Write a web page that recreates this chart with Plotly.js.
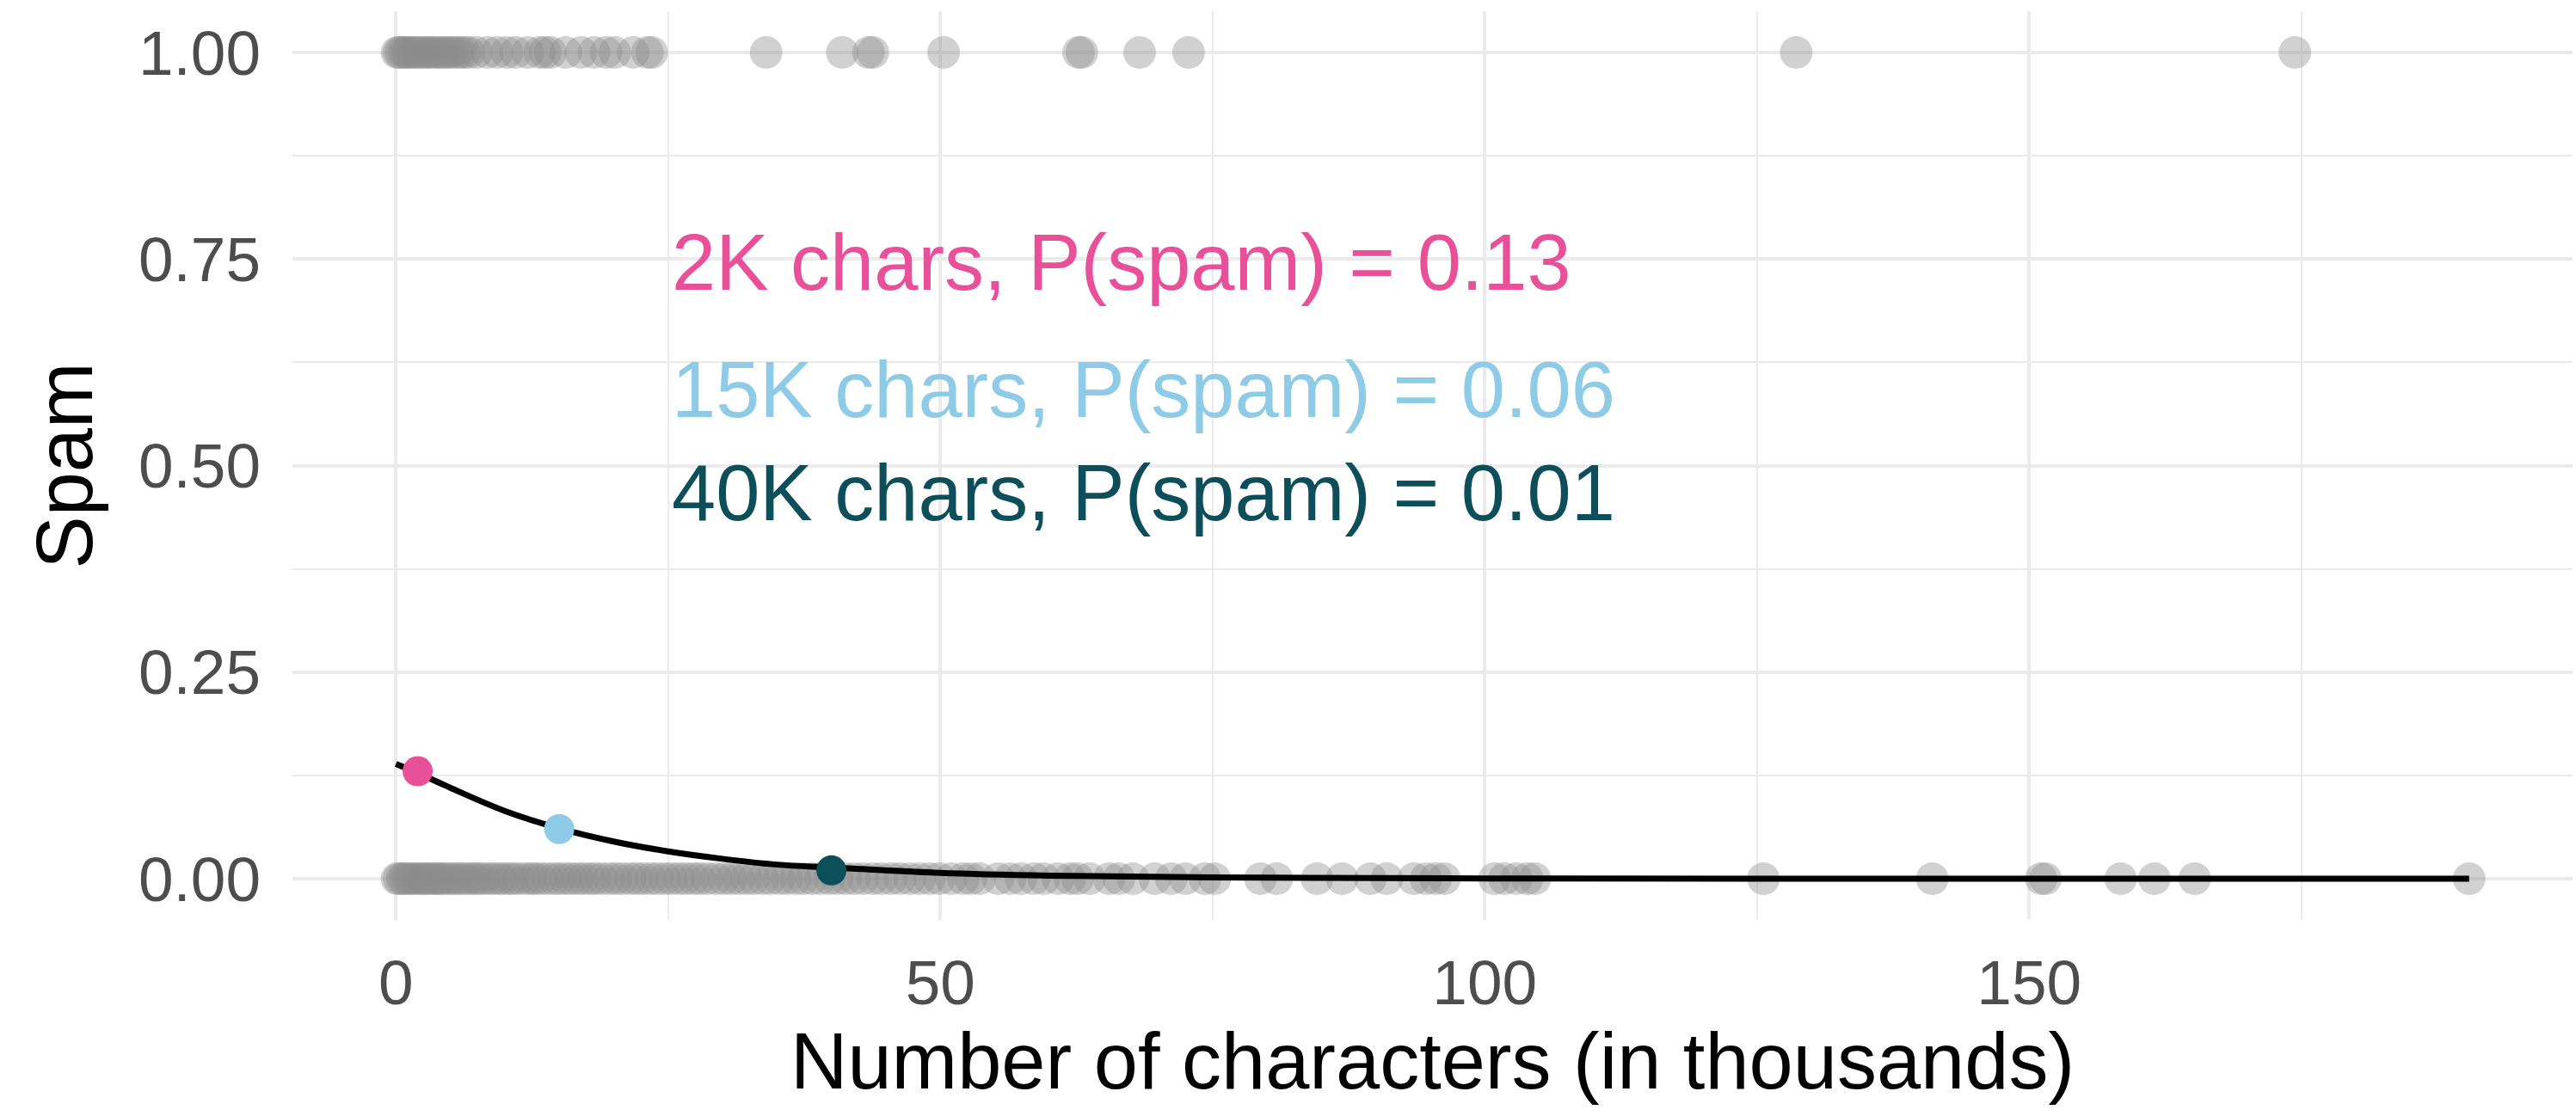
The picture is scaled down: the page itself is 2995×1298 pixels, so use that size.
<!DOCTYPE html>
<html>
<head>
<meta charset="utf-8">
<script src="https://cdn.plot.ly/plotly-3.0.1.min.js"></script>
<style>html,body{margin:0;padding:0;background:#fff;}#chart{width:2995px;height:1298px;}</style>
</head>
<body>
<div id="chart"></div>
<script>
// Non-spam emails (spam = 0): number of characters in thousands
const notSpamChars = [0.1,0.3,0.6,0.8,1.1,1.4,1.6,1.9,2.2,2.5,2.7,3.0,3.3,3.6,3.9,4.1,4.4,4.8,5.1,5.5,5.8,6.2,6.6,7.0,7.3,7.7,8.1,8.6,9.0,9.5,9.9,10.4,10.8,11.3,11.9,12.4,12.8,13.3,13.9,14.5,15.0,15.6,16.1,16.7,17.2,17.8,18.3,18.9,19.6,20.2,20.8,21.5,22.1,22.7,23.4,24.0,24.7,25.3,26.0,26.6,27.3,27.9,28.6,29.4,30.1,30.8,31.5,32.2,32.9,33.7,34.4,35.2,35.9,36.7,37.4,38.2,39.0,39.8,40.5,41.3,42.1,42.9,43.8,44.6,45.5,46.3,47.2,48.1,49.0,49.9,51.0,52.1,52.8,53.6,55.3,56.4,57.4,58.6,59.5,60.8,61.9,62.6,63.7,65.5,66.4,67.7,69.7,71.2,72.5,74.3,75.2,79.4,80.9,84.6,86.9,89.5,91.0,93.5,94.6,95.5,96.3,100.9,101.8,102.9,103.9,104.6,125.6,141.1,151.1,151.5,158.4,161.5,165.2,190.4];
// Spam emails (spam = 1)
const spamChars = [0.1,0.3,0.5,0.8,1.0,1.2,1.5,1.7,2.0,2.3,2.6,2.9,3.1,3.4,3.7,4.0,4.3,4.6,4.9,5.2,5.6,5.9,6.3,6.7,7.4,8.4,9.3,10.2,11.0,12.1,13.2,13.7,14.2,15.6,17.0,18.2,19.3,20.1,21.8,23.1,23.5,34.0,41.0,43.4,43.8,50.3,62.7,63.0,68.3,72.8,128.6,174.4];

// Fitted logistic curve
const curveX = [0, 2, 5, 10, 15, 20, 25, 30, 35, 40, 50, 60, 75, 100, 130, 190.4];
const curveY = [0.139, 0.128, 0.110, 0.082, 0.061, 0.045, 0.033, 0.024, 0.017, 0.0135, 0.007, 0.0037, 0.0015, 0.0003, 0.00005, 0.0];

// Highlighted predictions
const highlightX = [2, 15, 40];
const highlightY = [0.13, 0.06, 0.01];
const highlightLabels = ["2K chars, P(spam) = 0.13", "15K chars, P(spam) = 0.06", "40K chars, P(spam) = 0.01"];
const highlightColors = ["#E8509A", "#8DCBE6", "#0D4E5B"];
const labelY = [0.746, 0.592, 0.467];
const labelX = 25.2;

const xTicks = [0, 50, 100, 150];
const yTicks = [0, 0.25, 0.5, 0.75, 1];

const FONT = "Liberation Sans, Arial, Helvetica, sans-serif";
const pointColor = "rgba(140,140,140,0.4)";

const traces = [
  {x: notSpamChars, y: notSpamChars.map(() => 0), type: "scatter", mode: "markers",
   marker: {size: 38, color: pointColor, line: {width: 0}}, hoverinfo: "skip", showlegend: false},
  {x: spamChars, y: spamChars.map(() => 1), type: "scatter", mode: "markers",
   marker: {size: 38, color: pointColor, line: {width: 0}}, hoverinfo: "skip", showlegend: false},
  {x: curveX, y: curveY, type: "scatter", mode: "lines",
   line: {color: "#000000", width: 7, shape: "spline"}, showlegend: false},
  {x: highlightX, y: highlightY, type: "scatter", mode: "markers",
   marker: {size: 35, color: highlightColors, line: {width: 0}}, showlegend: false}
];

const annotations = highlightLabels.map((t, i) => ({
  x: labelX, y: labelY[i], xref: "x", yref: "y", text: t, showarrow: false,
  xanchor: "left", yanchor: "middle", font: {family: FONT, size: 92, color: highlightColors[i]}
}));

const layout = {
  width: 2995, height: 1298,
  margin: {l: 340, r: 4, t: 13, b: 228},
  paper_bgcolor: "#ffffff", plot_bgcolor: "#ffffff",
  font: {family: FONT},
  xaxis: {
    range: [-9.5, 199.9], tickvals: xTicks, ticktext: xTicks.map(String),
    showgrid: true, gridcolor: "#EBEBEB", gridwidth: 4, zeroline: false, showline: false,
    ticks: "", ticklabelstandoff: 24,
    tickfont: {family: FONT, size: 73, color: "#4D4D4D"},
    minor: {tickvals: [25, 75, 125, 175], showgrid: true, gridcolor: "#EBEBEB", gridwidth: 2, ticks: ""},
    title: {text: "Number of characters (in thousands)", font: {family: FONT, size: 92, color: "#000000"}, standoff: 4},
    automargin: false
  },
  yaxis: {
    range: [-0.05, 1.05], tickvals: yTicks, ticktext: yTicks.map(v => v.toFixed(2)),
    showgrid: true, gridcolor: "#EBEBEB", gridwidth: 4, zeroline: false, showline: false,
    ticks: "", ticklabelstandoff: 36,
    tickfont: {family: FONT, size: 73, color: "#4D4D4D"},
    minor: {tickvals: [0.125, 0.375, 0.625, 0.875], showgrid: true, gridcolor: "#EBEBEB", gridwidth: 2, ticks: ""},
    title: {text: "Spam", font: {family: FONT, size: 92, color: "#000000"}, standoff: 22},
    automargin: false
  },
  annotations: annotations
};

Plotly.newPlot("chart", traces, layout, {staticPlot: true, displayModeBar: false});
</script>
</body>
</html>
